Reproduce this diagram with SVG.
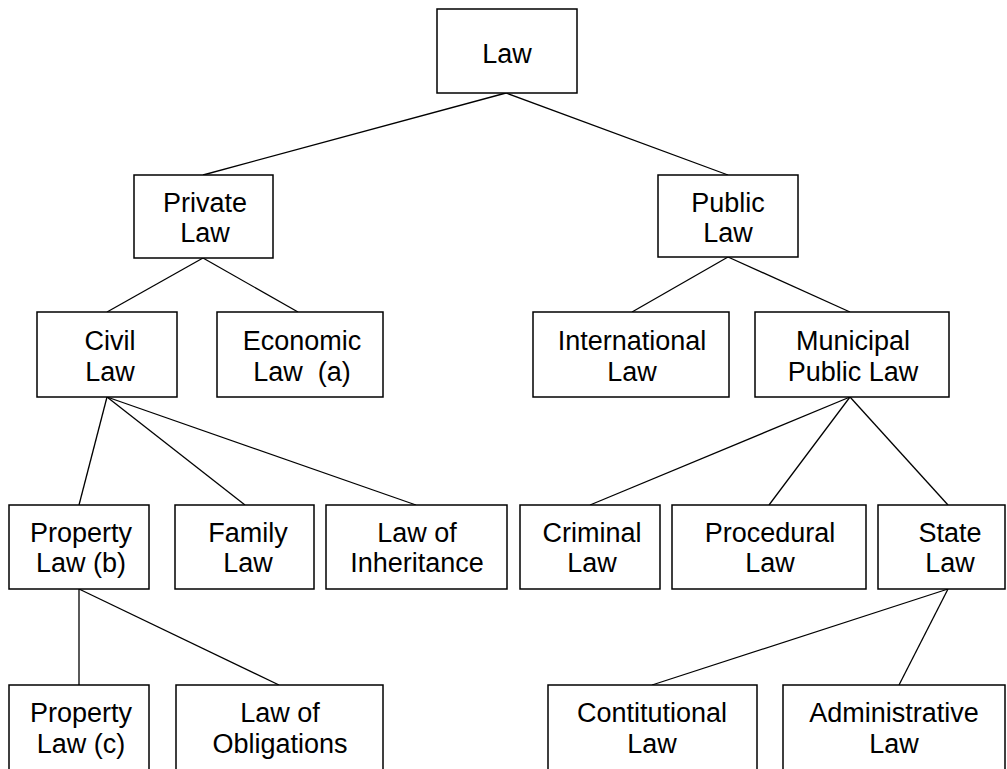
<svg xmlns="http://www.w3.org/2000/svg" width="1007" height="769" viewBox="0 0 1007 769">
<style>
.box rect{fill:#fff;stroke:#000;stroke-width:1.5}
.box text{font-family:"Liberation Sans",Arial,sans-serif;font-size:27px;fill:#000;text-anchor:middle;white-space:pre}
#connectors line{stroke:#000;stroke-width:1.3}
</style>
<rect width="1007" height="769" fill="#fff"/>
<g id="connectors">
<line x1="506" y1="93" x2="203" y2="175"/>
<line x1="506" y1="93" x2="728" y2="175"/>
<line x1="203" y1="258" x2="107" y2="312"/>
<line x1="203" y1="258" x2="298" y2="312"/>
<line x1="728" y1="257" x2="632" y2="312"/>
<line x1="728" y1="257" x2="850" y2="312"/>
<line x1="107" y1="397" x2="79" y2="505"/>
<line x1="107" y1="397" x2="245" y2="505"/>
<line x1="107" y1="397" x2="416" y2="505"/>
<line x1="850" y1="397" x2="590" y2="505"/>
<line x1="850" y1="397" x2="769" y2="505"/>
<line x1="850" y1="397" x2="948" y2="505"/>
<line x1="79" y1="589" x2="79" y2="685"/>
<line x1="79" y1="589" x2="279" y2="685"/>
<line x1="948" y1="589" x2="652" y2="685"/>
<line x1="948" y1="589" x2="899" y2="685"/>
</g>
<g id="law" class="box"><rect x="437" y="9" width="140" height="84"/><text x="507" y="63">Law</text></g>
<g id="private-law" class="box"><rect x="134" y="175" width="139" height="83"/><text x="205" y="212">Private</text><text x="205" y="242">Law</text></g>
<g id="public-law" class="box"><rect x="658" y="175" width="140" height="82"/><text x="728" y="212">Public</text><text x="728" y="242">Law</text></g>
<g id="civil-law" class="box"><rect x="37" y="312" width="140" height="85"/><text x="110" y="350">Civil</text><text x="110" y="381">Law</text></g>
<g id="economic-law" class="box"><rect x="217" y="312" width="166" height="85"/><text x="302" y="350">Economic</text><text x="302" y="381">Law  (a)</text></g>
<g id="international-law" class="box"><rect x="533" y="312" width="196" height="85"/><text x="632" y="350">International</text><text x="632" y="381">Law</text></g>
<g id="municipal-public-law" class="box"><rect x="755" y="312" width="194" height="85"/><text x="853" y="350">Municipal</text><text x="853" y="381">Public Law</text></g>
<g id="property-law-b" class="box"><rect x="9" y="505" width="140" height="84"/><text x="81" y="542">Property</text><text x="81" y="572">Law (b)</text></g>
<g id="family-law" class="box"><rect x="175" y="505" width="139" height="84"/><text x="248" y="542">Family</text><text x="248" y="572">Law</text></g>
<g id="law-of-inheritance" class="box"><rect x="326" y="505" width="181" height="84"/><text x="417" y="542">Law of</text><text x="417" y="572">Inheritance</text></g>
<g id="criminal-law" class="box"><rect x="520" y="505" width="140" height="84"/><text x="592" y="542">Criminal</text><text x="592" y="572">Law</text></g>
<g id="procedural-law" class="box"><rect x="672" y="505" width="194" height="84"/><text x="770" y="542">Procedural</text><text x="770" y="572">Law</text></g>
<g id="state-law" class="box"><rect x="878" y="505" width="127" height="84"/><text x="950" y="542">State</text><text x="950" y="572">Law</text></g>
<g id="property-law-c" class="box"><rect x="9" y="685" width="140" height="95"/><text x="81" y="722">Property</text><text x="81" y="753">Law (c)</text></g>
<g id="law-of-obligations" class="box"><rect x="176" y="685" width="207" height="95"/><text x="280" y="722">Law of</text><text x="280" y="753">Obligations</text></g>
<g id="constitutional-law" class="box"><rect x="548" y="685" width="209" height="95"/><text x="652" y="722">Contitutional</text><text x="652" y="753">Law</text></g>
<g id="administrative-law" class="box"><rect x="783" y="685" width="222" height="95"/><text x="894" y="722">Administrative</text><text x="894" y="753">Law</text></g>
</svg>
